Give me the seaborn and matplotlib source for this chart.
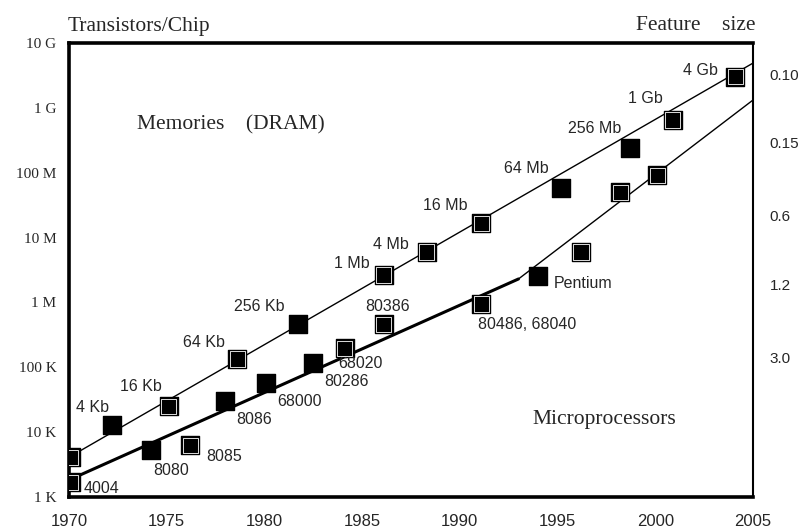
import numpy as np
import pandas as pd
import matplotlib
matplotlib.use("Agg")
import matplotlib.pyplot as plt
from matplotlib.ticker import NullLocator, FixedLocator, FixedFormatter
import seaborn as sns

# DRAM generations
dram_year = [1970.1, 1972.2, 1975.1, 1978.6, 1981.7, 1986.1, 1988.3, 1991.1, 1995.2, 1998.7, 2000.9, 2004.1]
dram_count = [4.1e3, 12.9e3, 25e3, 134e3, 464e3, 2.65e6, 6.0e6, 16.7e6, 58e6, 240e6, 650e6, 3.0e9]
dram_label = ["", "4 Kb", "16 Kb", "64 Kb", "256 Kb", "1 Mb", "4 Mb", "16 Mb", "64 Mb", "256 Mb", "1 Gb", "4 Gb"]
dram_outlined = [1, 0, 1, 1, 0, 1, 1, 1, 0, 0, 1, 1]

# microprocessors
cpu_year = [1970.1, 1974.2, 1976.2, 1978.0, 1980.1, 1982.5, 1984.1, 1986.1, 1991.1, 1994.0, 1996.2, 1998.2, 2000.1]
cpu_count = [1.7e3, 5.3e3, 6.3e3, 30e3, 57e3, 116e3, 198e3, 464e3, 946e3, 2.55e6, 6.0e6, 50e6, 92e6]
cpu_label = ["4004", "8080", "8085", "8086", "68000", "80286", "68020", "80386", "80486, 68040", "Pentium", "", "", ""]
cpu_outlined = [1, 0, 1, 0, 0, 0, 1, 1, 1, 0, 1, 1, 1]

# trend lines
dram_trend_year = [1970, 2005]
dram_trend_count = [4.1e3, 4.9e9]
cpu_early_year = [1970, 1993]
cpu_early_count = [1.83e3, 2.3e6]
cpu_late_year = [1993, 2005]
cpu_late_count = [2.3e6, 1.32e9]

# right-hand feature size scale
feature_label = ["0.10", "0.15", "0.6", "1.2", "3.0"]
feature_at = [3.3e9, 2.9e8, 2.2e7, 1.86e6, 1.44e5]

year_ticks = [1970, 1975, 1980, 1985, 1990, 1995, 2000, 2005]
count_ticks = [1e10, 1e9, 1e8, 1e7, 1e6, 1e5, 1e4, 1e3]
count_tick_labels = ["10 G", "1 G", "100 M", "10 M", "1 M", "100 K", "10 K", "1 K"]

# label offsets (pixels) from each marker
dram_offset = [(0, 0), (-36, 17), (-49, 20), (-54, 17), (-64, 18), (-50, 11), (-54, 7),
               (-58, 18), (-57, 20), (-62, 20), (-45, 21), (-52, 6)]
cpu_offset = [(13, -6), (2, -20), (16, -11), (11, -18), (11, -18), (11, -18), (-6, -15),
              (-18, 18), (-3, -21), (16, -7), (0, 0), (0, 0), (0, 0)]

sns.set_style("white")
serif = "Liberation Serif"
sans = "Liberation Sans"
plt.rcParams["font.family"] = [sans, "DejaVu Sans"]

fig = plt.figure(figsize=(8.01, 5.28), dpi=100)
ax = fig.add_axes([69 / 801, 31 / 528, 684 / 801, 454 / 528])
ax.set_yscale("log")

sns.lineplot(x=dram_trend_year, y=dram_trend_count, ax=ax, color="black", linewidth=1.0)
sns.lineplot(x=cpu_early_year, y=cpu_early_count, ax=ax, color="black", linewidth=2.2)
sns.lineplot(x=cpu_late_year, y=cpu_late_count, ax=ax, color="black", linewidth=1.0)

dram = pd.DataFrame({"year": dram_year, "count": dram_count, "outlined": dram_outlined})
cpu = pd.DataFrame({"year": cpu_year, "count": cpu_count, "outlined": cpu_outlined})

for df in (dram, cpu):
    sns.scatterplot(data=df, x="year", y="count", ax=ax, marker="s", s=150,
                    color="black", edgecolor="black", linewidth=1, zorder=3)
    ring = df[df["outlined"] == 1]
    ax.scatter(ring["year"], ring["count"], marker="s", s=118, facecolors="none",
               edgecolors="white", linewidths=0.6, zorder=4)

for x, y, lab, off in zip(dram_year, dram_count, dram_label, dram_offset):
    if lab:
        ax.annotate(lab, (x, y), xytext=off, textcoords="offset pixels",
                    ha="left", va="center", fontsize=11.5, family=sans)
for x, y, lab, off in zip(cpu_year, cpu_count, cpu_label, cpu_offset):
    if lab:
        ax.annotate(lab, (x, y), xytext=off, textcoords="offset pixels",
                    ha="left", va="center", fontsize=11.5, family=sans)

ax.set_xlim(1970, 2005)
ax.set_ylim(1e3, 1e10)
ax.set_xticks(year_ticks)
ax.set_xticklabels([str(y) for y in year_ticks], fontsize=12, family=sans)
ax.yaxis.set_major_locator(FixedLocator(count_ticks))
ax.yaxis.set_major_formatter(FixedFormatter(count_tick_labels))
ax.yaxis.set_minor_locator(NullLocator())
for t in ax.get_yticklabels():
    t.set_family(serif)
    t.set_fontsize(11)
ax.tick_params(axis="both", length=0)
ax.tick_params(axis="x", pad=12)
ax.tick_params(axis="y", pad=9)
ax.set_xlabel("")
ax.set_ylabel("")

for side in ["left", "top", "bottom"]:
    ax.spines[side].set_linewidth(2.6)
    ax.spines[side].set_color("black")
ax.spines["right"].set_linewidth(1.5)
ax.spines["right"].set_color("black")

ax2 = ax.twinx()
ax2.set_yscale("log")
ax2.set_ylim(1e3, 1e10)
ax2.yaxis.set_major_locator(FixedLocator(feature_at))
ax2.yaxis.set_major_formatter(FixedFormatter(feature_label))
ax2.yaxis.set_minor_locator(NullLocator())
ax2.tick_params(axis="y", length=0, pad=12, labelsize=11)
for s in ax2.spines.values():
    s.set_visible(False)

ax.text(0.099, 0.819, "Memories    (DRAM)", transform=ax.transAxes, ha="left",
        va="center", fontsize=15.5, family=serif)
ax.text(0.677, 0.170, "Microprocessors", transform=ax.transAxes, ha="left",
        va="center", fontsize=15.5, family=serif)
fig.text(68 / 801, 1 - 31 / 528, "Transistors/Chip", ha="left", va="baseline",
         fontsize=15.5, family=serif)
fig.text(755 / 801, 1 - 30 / 528, "Feature    size", ha="right", va="baseline",
         fontsize=15.5, family=serif)

fig.savefig("out.png", dpi=100)
